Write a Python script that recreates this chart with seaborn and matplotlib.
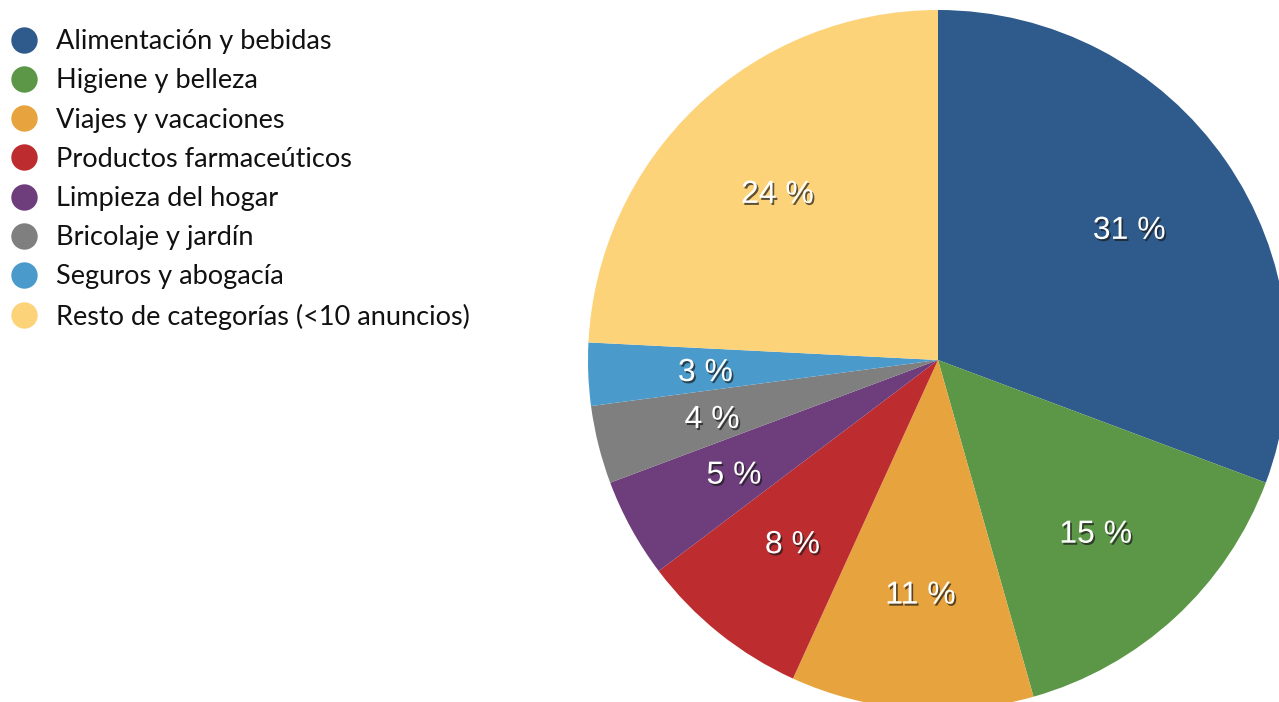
import matplotlib
matplotlib.use("Agg")
import matplotlib.pyplot as plt
import matplotlib.patheffects as pe
from matplotlib.lines import Line2D
import seaborn as sns

sns.set_theme(style="white")
plt.rcParams["font.family"] = ["Lato", "DejaVu Sans"]

categories = [
    "Alimentación y bebidas",
    "Higiene y belleza",
    "Viajes y vacaciones",
    "Productos farmaceúticos",
    "Limpieza del hogar",
    "Bricolaje y jardín",
    "Seguros y abogacía",
    "Resto de categorías (<10 anuncios)",
]
shares = [30.7, 14.9, 11.2, 7.9, 4.6, 3.6, 2.9, 24.2]
colors = ["#2E5A8C", "#5C9748", "#E6A33E", "#BD2D30",
          "#6E3D7C", "#7F7F7F", "#4A9BCB", "#FDD37A"]

W, H = 1279, 702
fig = plt.figure(figsize=(W / 100, H / 100), dpi=100)

# pie axes: centre (938, 360) px, radius 350 px
cx, cy, r = 938, 360, 350
ax = fig.add_axes([(cx - r) / W, (H - cy - r) / H, 2 * r / W, 2 * r / H])
wedges, texts, autotexts = ax.pie(
    shares, colors=colors, startangle=90, counterclock=False,
    autopct=lambda p: f"{p:.0f} %", pctdistance=0.665,
    wedgeprops=dict(linewidth=0),
)
for w in wedges:
    w.set_clip_on(False)
for t in autotexts:
    t.set_color("white")
    t.set_fontsize(23)
    t.set_fontfamily(["Liberation Sans", "DejaVu Sans"])
    t.set_y(t.get_position()[1] - 0.01)
    t.set_path_effects([
        pe.SimplePatchShadow(offset=(1.2, -1.5), shadow_rgbFace="#1a1a1a", alpha=0.7),
        pe.Normal(),
    ])
ax.set_xlim(-1, 1)
ax.set_ylim(-1, 1)
ax.set_aspect("equal")
ax.axis("off")

handles = [Line2D([0], [0], marker="o", linestyle="none", markersize=19,
                  markerfacecolor=c, markeredgewidth=0) for c in colors]
fig.legend(handles, categories, loc="upper left",
           bbox_to_anchor=(0.0, 1.0 - 21 / H), frameon=False,
           fontsize=19.5, labelspacing=0.525, handletextpad=0.57,
           handlelength=1.2, borderaxespad=0, borderpad=0.3,
           labelcolor="#111111")

fig.savefig("out.png", dpi=100)
